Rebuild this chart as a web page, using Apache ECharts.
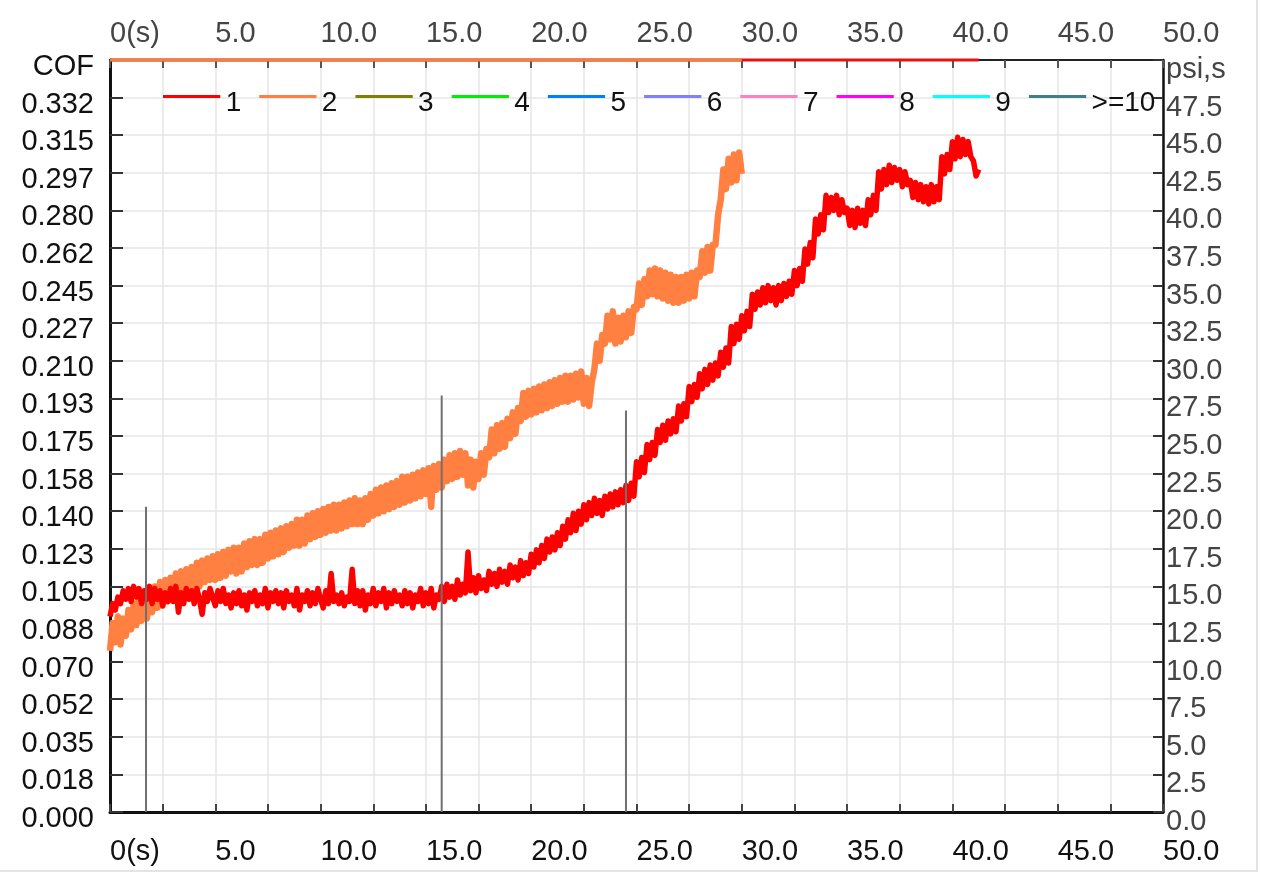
<!DOCTYPE html>
<html>
<head>
<meta charset="utf-8">
<script src="https://cdn.jsdelivr.net/npm/echarts@6/dist/echarts.min.js"></script>
<style>
  html, body { margin: 0; padding: 0; background: #fff; }
  #chart { width: 1261px; height: 874px; }
  #frame { position: absolute; left: 0; top: 0; width: 1256px; height: 870px; border-right: 2px solid #e4e4e4; border-bottom: 2px solid #e4e4e4; pointer-events: none; }
</style>
</head>
<body>
<div id="chart"></div>
<div id="frame"></div>
<script>
// ---- data ----
const SAMPLE_STEP_S = 0.125;          // sampling period of the traces (s)

// trace 1 (red), COF, 8 samples per second from 0 s (one row per second)
const trace1_cof = [
  0.091,0.097,0.094,0.100,0.097,0.103,0.099,0.104,
  0.098,0.105,0.100,0.104,0.097,0.103,0.099,0.105,
  0.097,0.104,0.099,0.103,0.096,0.102,0.098,0.104,
  0.098,0.105,0.093,0.102,0.097,0.104,0.099,0.103,
  0.097,0.104,0.099,0.092,0.102,0.098,0.104,0.100,
  0.096,0.103,0.098,0.104,0.097,0.101,0.095,0.102,
  0.097,0.103,0.096,0.101,0.094,0.102,0.098,0.103,
  0.096,0.101,0.097,0.104,0.095,0.102,0.098,0.103,
  0.097,0.102,0.095,0.103,0.098,0.101,0.096,0.104,
  0.094,0.101,0.098,0.103,0.096,0.102,0.097,0.104,
  0.099,0.095,0.103,0.097,0.111,0.098,0.101,0.097,
  0.102,0.096,0.100,0.098,0.113,0.097,0.103,0.096,
  0.103,0.094,0.101,0.097,0.104,0.096,0.102,0.098,
  0.104,0.095,0.102,0.097,0.103,0.098,0.101,0.096,
  0.103,0.097,0.102,0.095,0.101,0.098,0.104,0.096,
  0.102,0.097,0.104,0.095,0.101,0.099,0.105,0.098,
  0.106,0.100,0.105,0.099,0.108,0.101,0.106,0.102,
  0.121,0.103,0.109,0.102,0.110,0.104,0.108,0.103,
  0.112,0.106,0.111,0.105,0.113,0.107,0.112,0.106,
  0.115,0.109,0.114,0.108,0.117,0.110,0.116,0.111,
  0.120,0.114,0.122,0.116,0.124,0.118,0.127,0.121,
  0.128,0.122,0.130,0.124,0.133,0.127,0.136,0.130,
  0.139,0.131,0.140,0.134,0.143,0.136,0.144,0.138,
  0.146,0.139,0.145,0.138,0.147,0.141,0.148,0.142,
  0.149,0.143,0.150,0.144,0.152,0.145,0.153,0.147,
  0.163,0.156,0.165,0.158,0.171,0.164,0.172,0.166,
  0.178,0.172,0.180,0.173,0.182,0.176,0.183,0.177,
  0.189,0.182,0.190,0.184,0.198,0.191,0.199,0.193,
  0.204,0.197,0.206,0.199,0.208,0.201,0.209,0.203,
  0.214,0.207,0.216,0.209,0.226,0.218,0.227,0.220,
  0.231,0.224,0.233,0.226,0.241,0.234,0.242,0.236,
  0.244,0.237,0.245,0.238,0.244,0.236,0.245,0.238,
  0.246,0.240,0.247,0.241,0.252,0.245,0.253,0.247,
  0.262,0.255,0.265,0.258,0.276,0.269,0.278,0.271,
  0.287,0.279,0.286,0.280,0.287,0.278,0.285,0.279,
  0.281,0.273,0.280,0.272,0.281,0.274,0.280,0.273,
  0.285,0.278,0.287,0.280,0.298,0.290,0.299,0.292,
  0.301,0.293,0.300,0.294,0.299,0.291,0.298,0.292,
  0.294,0.286,0.293,0.285,0.292,0.284,0.291,0.283,
  0.292,0.284,0.291,0.285,0.305,0.297,0.306,0.299,
  0.312,0.304,0.314,0.305,0.313,0.306,0.312,0.305,
  0.303,0.296,0.299
];

// trace 2 (orange), COF, 8 samples per second from 0 s (one row per second)
const trace2_cof = [
  0.075,0.088,0.079,0.091,0.078,0.090,0.082,0.094,
  0.085,0.097,0.087,0.099,0.089,0.101,0.090,0.102,
  0.093,0.105,0.095,0.107,0.096,0.108,0.098,0.109,
  0.099,0.111,0.100,0.112,0.102,0.113,0.103,0.114,
  0.104,0.116,0.105,0.117,0.107,0.118,0.108,0.119,
  0.108,0.120,0.109,0.121,0.110,0.122,0.112,0.123,
  0.111,0.123,0.112,0.125,0.114,0.126,0.115,0.127,
  0.115,0.127,0.116,0.129,0.118,0.130,0.119,0.131,
  0.120,0.132,0.121,0.133,0.123,0.134,0.124,0.136,
  0.124,0.136,0.125,0.138,0.127,0.139,0.128,0.140,
  0.129,0.141,0.130,0.142,0.131,0.143,0.131,0.143,
  0.132,0.144,0.133,0.145,0.134,0.146,0.134,0.145,
  0.134,0.146,0.136,0.148,0.138,0.150,0.139,0.151,
  0.140,0.152,0.141,0.153,0.142,0.154,0.143,0.156,
  0.144,0.156,0.145,0.157,0.146,0.158,0.147,0.159,
  0.148,0.160,0.142,0.161,0.150,0.162,0.151,0.164,
  0.154,0.166,0.155,0.167,0.156,0.168,0.157,0.167,
  0.152,0.164,0.151,0.163,0.155,0.167,0.157,0.169,
  0.165,0.178,0.167,0.180,0.169,0.181,0.170,0.183,
  0.174,0.186,0.176,0.188,0.182,0.195,0.184,0.196,
  0.185,0.197,0.186,0.198,0.187,0.199,0.188,0.200,
  0.189,0.201,0.190,0.202,0.191,0.203,0.191,0.203,
  0.192,0.204,0.193,0.205,0.190,0.202,0.189,0.200,
  0.206,0.218,0.210,0.222,0.218,0.231,0.220,0.233,
  0.218,0.230,0.219,0.231,0.221,0.233,0.223,0.235,
  0.234,0.246,0.236,0.248,0.240,0.252,0.241,0.253,
  0.240,0.252,0.239,0.251,0.238,0.250,0.237,0.249,
  0.237,0.249,0.238,0.250,0.239,0.251,0.240,0.252,
  0.249,0.261,0.251,0.263,0.252,0.264,0.264,0.278,
  0.285,0.299,0.290,0.304,0.293,0.306,0.294,0.307,
  0.297
];

// vertical event markers (time in s, height in psi on the right axis)
const marker_time_s = [1.71, 15.75, 24.5];
const marker_psi = [20.3, 27.7, 26.7];

// legend entries and colours
const legend_names = ['1', '2', '3', '4', '5', '6', '7', '8', '9', '>=10'];
const legend_colors = ['#ff0000', '#ff8040', '#808000', '#00ee00', '#0080ff',
                       '#8080ff', '#ff80c0', '#ff00ff', '#00ffff', '#408080'];

// tick labels
const time_labels = ['0(s)', '5.0', '10.0', '15.0', '20.0', '25.0', '30.0', '35.0', '40.0', '45.0', '50.0'];
const cof_labels = ['0.000', '0.018', '0.035', '0.052', '0.070', '0.088', '0.105', '0.123', '0.140',
                    '0.158', '0.175', '0.193', '0.210', '0.227', '0.245', '0.262', '0.280', '0.297',
                    '0.315', '0.332', 'COF'];
const psi_labels = ['0.0', '2.5', '5.0', '7.5', '10.0', '12.5', '15.0', '17.5', '20.0', '22.5', '25.0',
                    '27.5', '30.0', '32.5', '35.0', '37.5', '40.0', '42.5', '45.0', '47.5', 'psi,s'];

// ---- chart ----
const FONT = 'Liberation Sans';
const FS = 29;
const COF_STEP = 0.0175, COF_MAX = 0.35, PSI_STEP = 2.5, T_STEP = 2.5;
// legend swatch: a thin bar sitting at the top of a taller item box
const LEGEND_ICON = 'path://M0 0H58V3H0Z M0 16H0.2V16.2H0Z';

function toPairs(arr) { return arr.map((v, i) => [i * SAMPLE_STEP_S, v]); }
function timeFmt(v) {
  const k = Math.round(v / 5);
  return Math.abs(v - k * 5) < 1e-6 ? time_labels[k] : '';
}

const trace1 = toPairs(trace1_cof);
const trace2 = toPairs(trace2_cof);
const traces = { '1': trace1, '2': trace2 };

// progress stripe along the top edge, spanning each trace's time extent
function stripeSeries(data, color, z) {
  const lastT = data[data.length - 1][0];
  return {
    name: 'extent', type: 'line', symbol: 'none', silent: true, z: z, clip: false,
    lineStyle: { color: color, width: 3 },
    data: [[0, COF_MAX], [lastT, COF_MAX]]
  };
}

const series = [];
legend_names.forEach((n, i) => {
  if (traces[n]) return;
  series.push({ name: n, type: 'line', data: [], symbol: 'none', color: legend_colors[i],
                lineStyle: { color: legend_colors[i], width: 3 } });
});
series.push({
  name: '2', type: 'line', data: trace2, symbol: 'none', showSymbol: false, color: legend_colors[1],
  lineStyle: { color: legend_colors[1], width: 6.5, join: 'round' }, z: 3
});
series.push({
  name: '1', type: 'line', data: trace1, symbol: 'none', showSymbol: false, color: legend_colors[0],
  lineStyle: { color: legend_colors[0], width: 5.5, join: 'round' }, z: 4
});
series.push({
  name: 'markers', type: 'bar', yAxisIndex: 1, barWidth: 2, z: 6,
  itemStyle: { color: '#707070' },
  data: marker_time_s.map((t, i) => [t, marker_psi[i]])
});
series.push(stripeSeries(trace1, '#e81010', 7));
series.push(stripeSeries(trace2, '#f08040', 8));

const chart = echarts.init(document.getElementById('chart'), null, { renderer: 'canvas' });
chart.setOption({
  animation: false,
  backgroundColor: '#ffffff',
  textStyle: { fontFamily: FONT },
  grid: { left: 110, right: 98, top: 60, bottom: 62 },
  legend: {
    data: legend_names,
    left: 158, top: 84,
    itemWidth: 58, itemHeight: 16, itemGap: 18,
    icon: LEGEND_ICON, selectedMode: false,
    textStyle: { fontFamily: FONT, fontSize: FS - 1, color: '#111' }
  },
  xAxis: [
    {
      type: 'value', position: 'bottom', min: 0, max: 50, interval: T_STEP,
      axisLine: { show: true, onZero: false, lineStyle: { color: '#111', width: 3 } },
      axisTick: { show: true, inside: true, length: 8, lineStyle: { color: '#444', width: 2 } },
      splitLine: { show: true, lineStyle: { color: '#e6e6e6', width: 1.5 } },
      axisLabel: { formatter: timeFmt, align: 'left', margin: 25, fontSize: FS, color: '#111', fontFamily: FONT }
    },
    {
      type: 'value', position: 'top', min: 0, max: 50, interval: T_STEP,
      axisLine: { show: true, onZero: false, lineStyle: { color: '#222', width: 2 } },
      axisTick: { show: true, inside: true, length: 8, lineStyle: { color: '#555', width: 2 } },
      splitLine: { show: false },
      axisLabel: { formatter: timeFmt, align: 'left', margin: 12, fontSize: FS, color: '#444', fontFamily: FONT }
    }
  ],
  yAxis: [
    {
      type: 'value', position: 'left', min: 0, max: COF_MAX, interval: COF_STEP,
      axisLine: { show: true, onZero: false, lineStyle: { color: '#111', width: 3 } },
      axisTick: { show: true, inside: true, length: 13, lineStyle: { color: '#333', width: 2 } },
      splitLine: { show: true, lineStyle: { color: '#e6e6e6', width: 1.5 } },
      axisLabel: {
        formatter: v => cof_labels[Math.round(v / COF_STEP)] || '',
        margin: 16, fontSize: FS, color: '#111', fontFamily: FONT,
        verticalAlign: 'top', lineHeight: 14
      }
    },
    {
      type: 'value', position: 'right', min: 0, max: 50, interval: PSI_STEP,
      axisLine: { show: true, onZero: false, lineStyle: { color: '#111', width: 2.5 } },
      axisTick: { show: true, inside: true, length: 10, lineStyle: { color: '#333', width: 2 } },
      splitLine: { show: false },
      axisLabel: {
        formatter: v => psi_labels[Math.round(v / PSI_STEP)] || '',
        margin: 3, fontSize: FS, color: '#444', fontFamily: FONT, align: 'left',
        verticalAlign: 'top', lineHeight: 20
      }
    }
  ],
  series: series
});
</script>
</body>
</html>
